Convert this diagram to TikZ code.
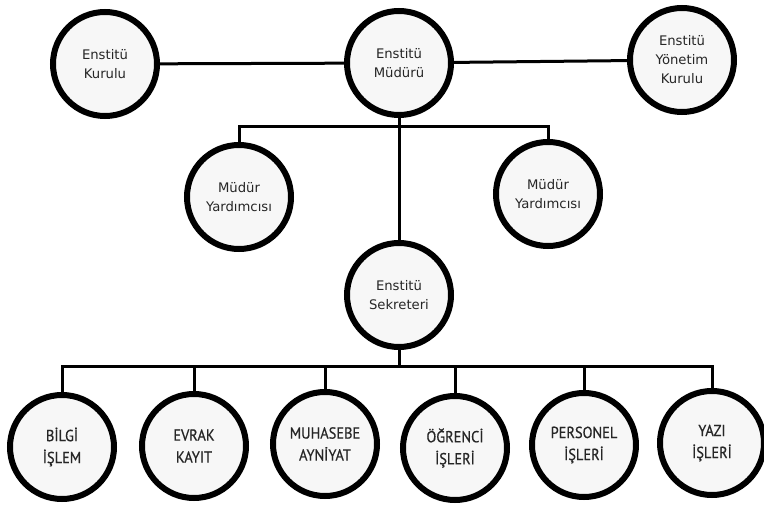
\documentclass[tikz,border=0pt]{standalone}
\usepackage{fontspec}
\setmainfont{DejaVu Sans}
\newfontfamily\unitfont[FakeStretch=0.9,FakeBold=0.6]{PT Sans}
\begin{document}
\begin{tikzpicture}[x=1pt,y=-1pt,
  orgcircle/.style={circle,draw=black,line width=6pt,fill=black!3,inner sep=0pt,
    minimum size=104pt,align=center,text=black!85},
  topunit/.style={orgcircle,font=\fontsize{13.2}{19}\selectfont},
  lowunit/.style={orgcircle,font=\unitfont\fontsize{16}{22}\selectfont},
  conn/.style={line width=3pt,line cap=rect}]
\useasboundingbox (0,0) rectangle (764,513);
\node[topunit] (kurulu) at (105,64) {Enstitü\\Kurulu};
\node[topunit] (mudur) at (399,63) {Enstitü\\Müdürü};
\node[topunit] (yonetim) at (682,60) {Enstitü\\Yönetim\\Kurulu};
\node[topunit] (my1) at (239,197) {Müdür\\Yardımcısı};
\node[topunit] (my2) at (548,194) {Müdür\\Yardımcısı};
\node[topunit] (sekreter) at (399,295) {Enstitü\\Sekreteri};
\node[lowunit] (bilgi) at (62,447) {BİLGİ\\İŞLEM};
\node[lowunit] (evrak) at (194,446) {EVRAK\\KAYIT};
\node[lowunit] (muhasebe) at (325,444) {MUHASEBE\\AYNİYAT};
\node[lowunit] (ogrenci) at (455,448) {ÖĞRENCİ\\İŞLERİ};
\node[lowunit] (personel) at (584,445) {PERSONEL\\İŞLERİ};
\node[lowunit] (yazi) at (712,443) {YAZI\\İŞLERİ};
\coordinate (busa) at (399,127);
\coordinate (busb) at (399,367);
\draw[conn] (kurulu) -- (mudur);
\draw[conn] (mudur) -- (yonetim);
\draw[conn] (mudur) -- (sekreter);
\draw[conn] (my1) |- (busa) -| (my2);
\draw[conn] (sekreter) -- (busb);
\draw[conn] (bilgi) |- (busb) -| (yazi);
\draw[conn] (evrak) |- (busb);
\draw[conn] (muhasebe) |- (busb);
\draw[conn] (ogrenci) |- (busb);
\draw[conn] (personel) |- (busb);
\end{tikzpicture}
\end{document}
